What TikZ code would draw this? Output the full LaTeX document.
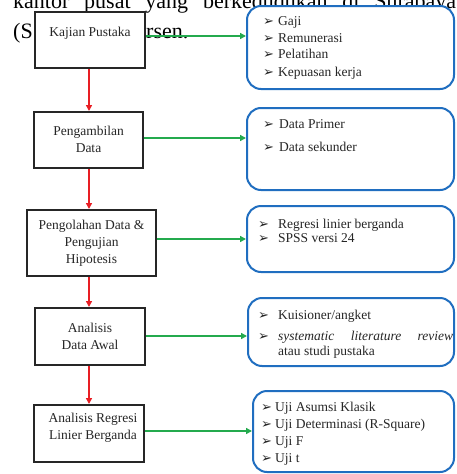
\documentclass[tikz,border=0pt]{standalone}
\usepackage{fontspec}
\setmainfont{Liberation Serif}
\newfontfamily\djv{DejaVu Sans}
\usetikzlibrary{arrows.meta}
\definecolor{myred}{RGB}{232,30,36}
\definecolor{mygreen}{RGB}{36,170,78}
\definecolor{myblue}{RGB}{32,110,192}
\newcommand\arrb{{\djv\fontsize{13}{13}\selectfont\char"27A2}}
\newcommand\itemline[5]{%
  \node[bul] (#1b) at (#2,#4) {\arrb};
  \node[itm] (#1) at (#3,#4) {#5};}
\begin{document}
\begin{tikzpicture}[x=1pt,y=-1pt,
  bg/.style={inner sep=0, font=\fontsize{22}{26}\selectfont, anchor=base west},
  blk/.style={draw=black!85, line width=2pt, fill=white, inner sep=0, rectangle},
  bluebox/.style={draw=myblue, line width=2pt, fill=white, inner sep=0, rectangle, rounded corners=14pt},
  btxt/.style={inner sep=0, align=center, font=\fontsize{13.5}{17}\selectfont, text=black!85},
  itm/.style={anchor=west, inner sep=0, text height=9.5pt, text depth=3pt, font=\fontsize{13.5}{17}\selectfont, text=black!85},
  bul/.style={anchor=west, inner sep=0, text height=9.5pt, text depth=3pt, text=black!85},
  rarr/.style={draw=myred, line width=2pt, -{Triangle[length=6pt,width=6pt]}},
  garr/.style={draw=mygreen, line width=1.8pt, -{Triangle[length=6pt,width=6pt]}}]
\useasboundingbox (0,0) rectangle (456,474);
\clip (0,0) rectangle (456,474);
% background page text
\node[bg] (t1) at (13,8) {\makebox[443pt][s]{kantor\hfill pusat\hfill yang\hfill berkedudukan\hfill di\hfill Surabaya}};
\node[bg] (t2) at (13,38.5) {(S};
\node[bg] (t3) at (146,38.5) {rsen.};
% black boxes
\node[blk, minimum width=110pt, minimum height=56pt] (b1) at (90,40) {};
\node[btxt] (b1t) at (90,33) {Kajian Pustaka};
\node[blk, minimum width=109pt, minimum height=56pt] (b2) at (88.5,140) {};
\node[btxt] (b2t) at (88.5,139.5) {Pengambilan\\Data};
\node[blk, minimum width=129pt, minimum height=66pt] (b3) at (91.5,243) {};
\node[btxt] (b3t) at (91.5,243) {Pengolahan Data \&\\Pengujian\\Hipotesis};
\node[blk, minimum width=110pt, minimum height=57pt] (b4) at (90,336.5) {};
\node[btxt] (b4t) at (90,336.5) {Analisis\\Data Awal};
\node[blk, minimum width=110pt, minimum height=57pt] (b5) at (89,433.5) {};
\node[btxt] (b5t) at (93,428) {Analisis Regresi\\Linier Berganda};
% blue boxes
\node[bluebox, minimum width=207pt, minimum height=83pt] (c1) at (350.5,47.5) {};
\node[bluebox, minimum width=207pt, minimum height=82pt] (c2) at (350.5,149) {};
\node[bluebox, minimum width=207pt, minimum height=66pt] (c3) at (350.5,239) {};
\node[bluebox, minimum width=206pt, minimum height=68pt] (c4) at (351,332) {};
\node[bluebox, minimum width=201pt, minimum height=81pt] (c5) at (353.5,431.5) {};
% items
\itemline{i11}{263}{278}{22}{Gaji}
\itemline{i12}{263}{278}{39}{Remunerasi}
\itemline{i13}{263}{278}{55}{Pelatihan}
\itemline{i14}{263}{278}{73}{Kepuasan kerja}
\itemline{i21}{263}{279}{125}{Data Primer}
\itemline{i22}{263}{279}{148}{Data sekunder}
\itemline{i31}{258}{278}{225}{Regresi linier berganda}
\itemline{i32}{258}{278}{239}{SPSS versi 24}
\itemline{i41}{258}{278}{316}{Kuisioner/angket}
\itemline{i42}{258}{278}{337}{\makebox[175pt][s]{\itshape systematic\hfill literature\hfill review}}
\node[itm] (i43) at (278,352) {atau studi pustaka};
\itemline{i51}{261}{275}{408}{Uji Asumsi Klasik}
\itemline{i52}{261}{275}{425}{Uji Determinasi (R-Square)}
\itemline{i53}{261}{275}{442}{Uji F}
\itemline{i54}{261}{275}{459}{Uji t}
% red arrows
\coordinate (rx) at (89,0);
\draw[rarr] (b1.south -| rx) -- (b2.north -| rx);
\draw[rarr] (b2.south -| rx) -- (b3.north -| rx);
\draw[rarr] (b3.south -| rx) -- (b4.north -| rx);
\draw[rarr] (b4.south -| rx) -- (b5.north -| rx);
% green arrows
\coordinate (g1) at (0,36);
\coordinate (g2) at (0,138);
\coordinate (g3) at (0,239);
\coordinate (g4) at (0,336);
\coordinate (g5) at (0,431);
\draw[garr] (b1.east |- g1) -- (c1.west |- g1);
\draw[garr] (b2.east |- g2) -- (c2.west |- g2);
\draw[garr] (b3.east |- g3) -- (c3.west |- g3);
\draw[garr] (b4.east |- g4) -- (c4.west |- g4);
\draw[garr] (b5.east |- g5) -- (c5.west |- g5);
\end{tikzpicture}
\end{document}
